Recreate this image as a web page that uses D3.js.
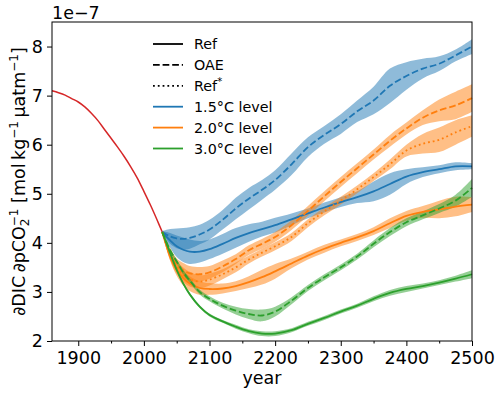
<!DOCTYPE html>
<meta charset="utf-8">
<script src="https://d3js.org/d3.v7.min.js"></script>
<style>
  body { margin: 0; background: #fff; }
  text { font-family: "DejaVu Sans", sans-serif; fill: #000; }
</style>
<div id="chart"></div>
<script>
// historical period (red)
const histYears = [1860, 1870, 1880, 1890, 1900, 1910, 1920, 1930, 1940, 1950, 1960, 1970, 1980, 1990, 2000, 2010, 2020, 2028];
const histValues = [7.10, 7.06, 7.01, 6.94, 6.87, 6.77, 6.64, 6.49, 6.31, 6.13, 5.95, 5.76, 5.55, 5.32, 5.05, 4.77, 4.47, 4.22];

// scenario years (shared by all branches)
const years = [2028, 2040, 2050, 2060, 2070, 2085, 2100, 2120, 2140, 2160, 2180, 2200, 2225, 2250, 2275, 2300, 2325, 2350, 2375, 2400, 2425, 2450, 2475, 2500];

// 1.5°C level
const blueRef     = [4.22, 4.05, 3.93, 3.86, 3.82, 3.82, 3.87, 3.98, 4.10, 4.20, 4.28, 4.36, 4.48, 4.60, 4.72, 4.83, 4.93, 5.05, 5.20, 5.35, 5.44, 5.50, 5.56, 5.56];
const blueRefSpread = [0.02, 0.15, 0.22, 0.25, 0.25, 0.22, 0.20, 0.20, 0.20, 0.18, 0.15, 0.15, 0.12, 0.10, 0.10, 0.10, 0.12, 0.20, 0.22, 0.15, 0.10, 0.08, 0.08, 0.06];
const blueOae     = [4.22, 4.13, 4.09, 4.08, 4.10, 4.17, 4.27, 4.47, 4.70, 4.90, 5.08, 5.28, 5.60, 5.95, 6.20, 6.42, 6.68, 6.90, 7.20, 7.40, 7.55, 7.65, 7.82, 8.00];
const blueOaeSpread = [0.02, 0.15, 0.20, 0.22, 0.22, 0.20, 0.20, 0.20, 0.22, 0.22, 0.20, 0.20, 0.22, 0.20, 0.18, 0.20, 0.22, 0.28, 0.35, 0.28, 0.20, 0.15, 0.12, 0.15];

// 2.0°C level
const orangeRef   = [4.22, 3.72, 3.45, 3.28, 3.17, 3.08, 3.06, 3.07, 3.12, 3.20, 3.30, 3.42, 3.58, 3.74, 3.88, 4.00, 4.11, 4.24, 4.40, 4.55, 4.63, 4.68, 4.74, 4.78];
const orangeRefSpread = [0.02, 0.08, 0.12, 0.15, 0.15, 0.14, 0.12, 0.10, 0.10, 0.12, 0.15, 0.15, 0.10, 0.08, 0.08, 0.07, 0.07, 0.08, 0.10, 0.10, 0.12, 0.18, 0.20, 0.15];
const orangeOae   = [4.22, 3.80, 3.55, 3.44, 3.38, 3.36, 3.40, 3.52, 3.67, 3.85, 3.98, 4.12, 4.36, 4.65, 4.95, 5.24, 5.52, 5.80, 6.08, 6.33, 6.55, 6.70, 6.80, 6.95];
const orangeOaeSpread = [0.02, 0.10, 0.13, 0.15, 0.15, 0.15, 0.13, 0.12, 0.10, 0.10, 0.10, 0.10, 0.10, 0.10, 0.10, 0.10, 0.10, 0.10, 0.12, 0.12, 0.15, 0.22, 0.28, 0.28];
const orangeStar  = [4.22, 3.75, 3.50, 3.35, 3.26, 3.21, 3.25, 3.36, 3.50, 3.66, 3.80, 3.93, 4.12, 4.40, 4.64, 4.86, 5.09, 5.34, 5.60, 5.88, 6.02, 6.10, 6.25, 6.38];
const orangeStarSpread = [0.02, 0.10, 0.13, 0.15, 0.15, 0.13, 0.12, 0.10, 0.10, 0.08, 0.08, 0.08, 0.08, 0.08, 0.08, 0.08, 0.08, 0.08, 0.10, 0.12, 0.20, 0.25, 0.25, 0.22];

// 3.0°C level
const greenRef    = [4.22, 3.79, 3.45, 3.17, 2.95, 2.70, 2.53, 2.40, 2.29, 2.20, 2.15, 2.15, 2.22, 2.35, 2.47, 2.60, 2.72, 2.86, 2.98, 3.06, 3.12, 3.19, 3.27, 3.36];
const greenRefSpread = [0.02, 0.03, 0.03, 0.03, 0.03, 0.03, 0.03, 0.03, 0.04, 0.04, 0.05, 0.05, 0.04, 0.04, 0.04, 0.04, 0.04, 0.05, 0.06, 0.06, 0.05, 0.05, 0.06, 0.08];
const greenOae    = [4.22, 3.85, 3.62, 3.40, 3.23, 3.00, 2.86, 2.72, 2.62, 2.55, 2.52, 2.60, 2.82, 3.08, 3.30, 3.50, 3.72, 3.98, 4.22, 4.42, 4.56, 4.70, 4.86, 5.12];
const greenOaeSpread = [0.02, 0.03, 0.04, 0.05, 0.05, 0.05, 0.05, 0.06, 0.08, 0.10, 0.12, 0.10, 0.07, 0.06, 0.06, 0.06, 0.06, 0.07, 0.08, 0.08, 0.08, 0.09, 0.12, 0.18];

const xTicks = [1900, 2000, 2100, 2200, 2300, 2400, 2500];
const xMinorTicks = [1950, 2050, 2150, 2250, 2350, 2450];
const yTicks = [2, 3, 4, 5, 6, 7, 8];

const legendItems = [
  {label: "Ref", color: "#000", dash: null},
  {label: "OAE", color: "#000", dash: "dashed"},
  {label: "Ref", sup: "*", color: "#000", dash: "dotted"},
  {label: "1.5°C level", color: "#1f77b4", dash: null},
  {label: "2.0°C level", color: "#ff7f0e", dash: null},
  {label: "3.0°C level", color: "#2ca02c", dash: null}
];

const series = [
  {mean: blueRef, spread: blueRefSpread, color: "#1f77b4", dash: null},
  {mean: blueOae, spread: blueOaeSpread, color: "#1f77b4", dash: "dashed"},
  {mean: orangeRef, spread: orangeRefSpread, color: "#ff7f0e", dash: null},
  {mean: orangeOae, spread: orangeOaeSpread, color: "#ff7f0e", dash: "dashed"},
  {mean: orangeStar, spread: orangeStarSpread, color: "#ff7f0e", dash: "dotted"},
  {mean: greenRef, spread: greenRefSpread, color: "#2ca02c", dash: null},
  {mean: greenOae, spread: greenOaeSpread, color: "#2ca02c", dash: "dashed"}
];

const dashes = {dashed: "6.7,2.9", dotted: "1.8,3"};

const margin = {top: 22, right: 28, bottom: 55, left: 52},
      width = 500 - margin.left - margin.right,
      height = 396 - margin.top - margin.bottom;

const svg = d3.select("#chart")
  .append("svg")
  .attr("width", 500)
  .attr("height", 396);

const g = svg.append("g")
  .attr("transform", `translate(${margin.left},${margin.top})`);

const x = d3.scaleLinear().domain([1860, 2500]).range([0, width]);
const y = d3.scaleLinear().domain([2, 8.5]).range([height, 0]);

const plot = g.append("g");

// uncertainty bands
series.forEach(s => {
  const pts = years.map((yr, i) => ({yr, lo: s.mean[i] - s.spread[i], hi: s.mean[i] + s.spread[i]}));
  plot.append("path")
    .datum(pts)
    .attr("fill", s.color)
    .attr("fill-opacity", 0.5)
    .attr("d", d3.area()
      .curve(d3.curveCatmullRom)
      .x(d => x(d.yr))
      .y0(d => y(d.lo))
      .y1(d => y(d.hi)));
});

const line = d3.line()
  .curve(d3.curveCatmullRom)
  .x(d => x(d[0]))
  .y(d => y(d[1]));

// historical line
plot.append("path")
  .datum(histYears.map((yr, i) => [yr, histValues[i]]))
  .attr("fill", "none")
  .attr("stroke", "#d62728")
  .attr("stroke-width", 1.5)
  .attr("d", line);

series.forEach(s => {
  plot.append("path")
    .datum(years.map((yr, i) => [yr, s.mean[i]]))
    .attr("fill", "none")
    .attr("stroke", s.color)
    .attr("stroke-width", 1.8)
    .attr("stroke-dasharray", s.dash ? dashes[s.dash] : null)
    .attr("d", line);
});

// axes
g.append("g")
  .attr("transform", `translate(0,${height})`)
  .call(d3.axisBottom(x).tickValues(xTicks).tickFormat(d3.format("d")).tickSize(5).tickPadding(6));

g.append("g")
  .attr("transform", `translate(0,${height})`)
  .call(d3.axisBottom(x).tickValues(xMinorTicks).tickFormat("").tickSize(2.5));

g.append("g")
  .call(d3.axisLeft(y).tickValues(yTicks).tickFormat(d3.format("d")).tickSize(5).tickPadding(4));

g.selectAll(".tick text").style("font-size", "17.5px").style("font-family", "DejaVu Sans");
g.selectAll(".tick line").attr("stroke", "#000");
g.selectAll(".domain").remove();

// frame
g.append("rect")
  .attr("width", width)
  .attr("height", height)
  .attr("fill", "none")
  .attr("stroke", "#000")
  .attr("stroke-width", 1);

// labels
svg.append("text")
  .attr("x", margin.left + width / 2)
  .attr("y", 384)
  .attr("text-anchor", "middle")
  .style("font-size", "17.5px")
  .text("year");

svg.append("text")
  .attr("x", margin.left)
  .attr("y", 19)
  .style("font-size", "17.5px")
  .text("1e\u22127");

const ylab = svg.append("text")
  .attr("transform", `translate(25,${margin.top + height / 2}) rotate(-90)`)
  .attr("text-anchor", "middle")
  .style("font-size", "17.5px");
ylab.append("tspan").text("\u2202DIC\u2009\u2202pCO");
ylab.append("tspan").attr("dy", 4).style("font-size", "12px").text("2");
ylab.append("tspan").attr("dx", "-0.636em").attr("dy", -11).style("font-size", "12px").text("\u22121");
ylab.append("tspan").attr("dy", 7).text(" [mol\u2009kg");
ylab.append("tspan").attr("dy", -7).style("font-size", "12px").text("\u22121");
ylab.append("tspan").attr("dy", 7).text("\u2009\u00b5atm");
ylab.append("tspan").attr("dy", -7).style("font-size", "12px").text("\u22121");
ylab.append("tspan").attr("dy", 7).text("]");

// legend
const legend = svg.append("g").attr("transform", "translate(153,44)");
legendItems.forEach((d, i) => {
  const row = legend.append("g").attr("transform", `translate(0,${i * 20.9})`);
  row.append("line")
    .attr("x1", 0).attr("x2", 30)
    .attr("stroke", d.color)
    .attr("stroke-width", 1.8)
    .attr("stroke-dasharray", d.dash ? dashes[d.dash] : null);
  const t = row.append("text")
    .attr("x", 41)
    .attr("y", 5)
    .style("font-size", "14.3px")
    .text(d.label);
  if (d.sup) t.append("tspan").attr("dy", -6).style("font-size", "10px").text(d.sup);
});
</script>
